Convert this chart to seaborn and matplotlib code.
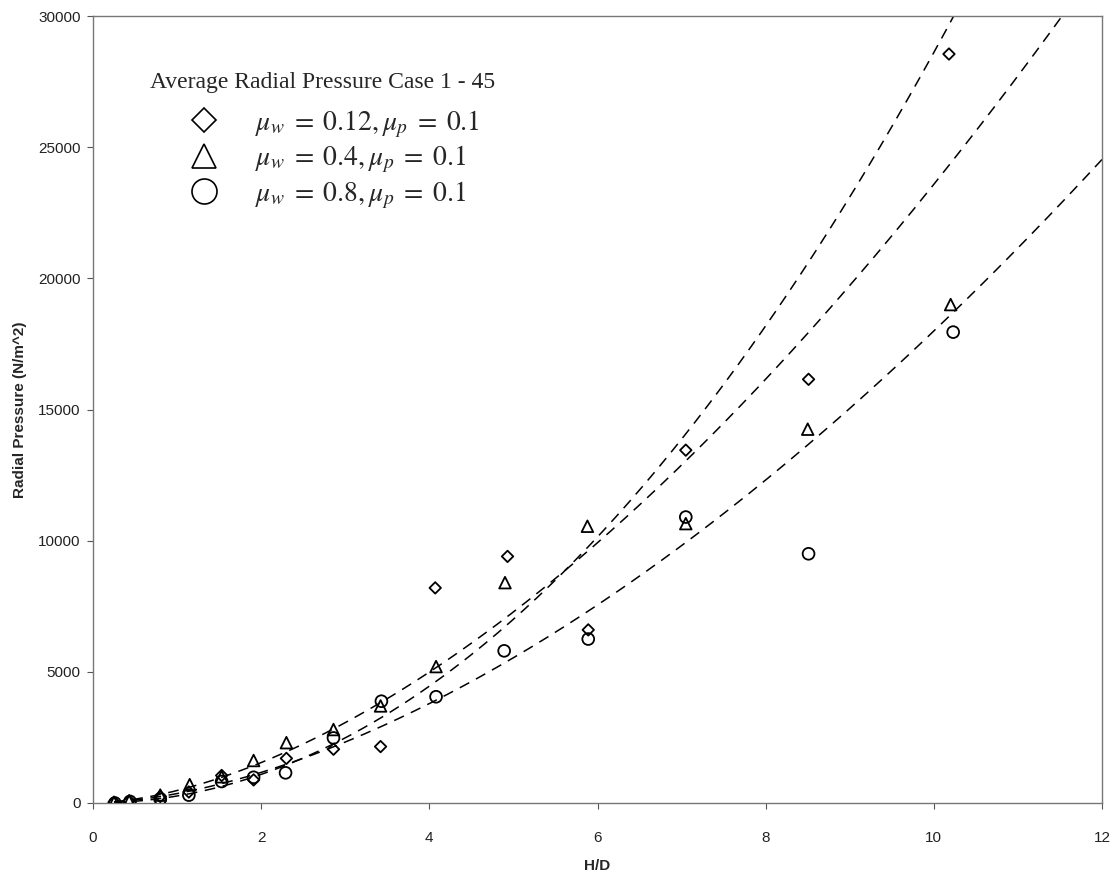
import numpy as np
import pandas as pd
import matplotlib
matplotlib.use("Agg")
import matplotlib.pyplot as plt
from matplotlib.lines import Line2D
import seaborn as sns

# ---------------- data ----------------
series_labels = [r"$\mu_w\;=\;0.12, \mu_p\;=\;0.1$",
                 r"$\mu_w\;=\;0.4, \mu_p\;=\;0.1$",
                 r"$\mu_w\;=\;0.8, \mu_p\;=\;0.1$"]

hd_diamond = [0.25, 0.43, 0.80, 1.14, 1.53, 1.91, 2.30, 2.86, 3.42, 4.07, 4.93, 5.89, 7.05, 8.51, 10.18]
p_diamond = [30, 80, 250, 420, 1050, 880, 1700, 2050, 2150, 8200, 9400, 6600, 13450, 16150, 28550]

hd_triangle = [0.25, 0.43, 0.80, 1.15, 1.53, 1.91, 2.30, 2.86, 3.42, 4.08, 4.90, 5.88, 7.05, 8.50, 10.20]
p_triangle = [20, 70, 300, 700, 1000, 1620, 2300, 2800, 3700, 5200, 8400, 10550, 10650, 14250, 19000]

hd_circle = [0.26, 0.44, 0.80, 1.14, 1.53, 1.91, 2.29, 2.86, 3.43, 4.08, 4.89, 5.89, 7.05, 8.51, 10.23]
p_circle = [0, 60, 150, 300, 820, 980, 1150, 2480, 3880, 4050, 5800, 6250, 10900, 9500, 17950]

# power trendlines y = a * x^b (coefficients)
trend_a = [267.0, 476.0, 359.0]
trend_b = [2.03, 1.695, 1.70]
trend_x_range = [0.25, 12.0]

x_ticks = [0, 2, 4, 6, 8, 10, 12]
y_ticks = [0, 5000, 10000, 15000, 20000, 25000, 30000]

legend_title = "Average Radial Pressure Case 1 - 45"
x_label = "H/D"
y_label = "Radial Pressure (N/m^2)"

# ---------------- style ----------------
sns.set_theme(style="white")
plt.rcParams["font.family"] = ["Liberation Sans", "DejaVu Sans"]
plt.rcParams["mathtext.fontset"] = "stix"

fig = plt.figure(figsize=(11.17, 8.77), dpi=100)
ax = fig.add_axes([93 / 1117, 1 - 803 / 877, (1102 - 93) / 1117, (803 - 16) / 877])
ax.set_facecolor("white")

markers = ["D", "^", "o"]
sizes = [34, 70, 72]
xs = [hd_diamond, hd_triangle, hd_circle]
ys = [p_diamond, p_triangle, p_circle]

for xv, yv, m, s in zip(xs, ys, markers, sizes):
    df = pd.DataFrame({"x": xv, "y": yv})
    sns.scatterplot(data=df, x="x", y="y", marker=m, s=s, facecolors="none",
                    edgecolor="black", linewidth=1.3, ax=ax, legend=False, zorder=3)

xx = np.linspace(trend_x_range[0], trend_x_range[1], 300)
for a, b in zip(trend_a, trend_b):
    dft = pd.DataFrame({"x": xx, "y": a * xx ** b})
    sns.lineplot(data=dft, x="x", y="y", color="black", linewidth=1.1,
                 ax=ax, legend=False, zorder=2, sort=False)
for ln in ax.lines:
    ln.set_dashes((7, 5))

ax.set_xlim(0, 12)
ax.set_ylim(0, 30000)
ax.set_xticks(x_ticks)
ax.set_yticks(y_ticks)
ax.set_xticklabels([str(t) for t in x_ticks], fontsize=11, color="#222222")
ax.set_yticklabels([str(t) for t in y_ticks], fontsize=11, color="#222222")
ax.tick_params(axis="both", which="major", direction="out", length=4,
               width=0.8, color="#555555", pad=5,
               bottom=True, left=True, top=False, right=False)
ax.tick_params(axis="x", pad=16)
ax.set_xlabel(x_label, fontsize=11, fontweight="bold", labelpad=10)
ax.set_ylabel(y_label, fontsize=11, fontweight="bold", labelpad=8)
for sp in ax.spines.values():
    sp.set_visible(True)
    sp.set_color("#777777")
    sp.set_linewidth(1.0)

# legend
handles = [Line2D([], [], linestyle="none", marker=m, markersize=ms,
                  markerfacecolor="none", markeredgecolor="black", markeredgewidth=1.2)
           for m, ms in zip(markers, [12.5, 17, 18])]
leg = ax.legend(handles, series_labels, title=legend_title, loc="upper left",
                bbox_to_anchor=(0.045, 0.943), frameon=False, prop={"size": 20},
                handletextpad=-0.1, labelspacing=0.15, borderaxespad=0,
                alignment="left", handlelength=3.9)
leg.get_title().set_fontfamily("Liberation Serif")
leg.get_title().set_fontsize(17)
leg._legend_box.sep = 11

fig.savefig("out.png", dpi=100, facecolor="white")
